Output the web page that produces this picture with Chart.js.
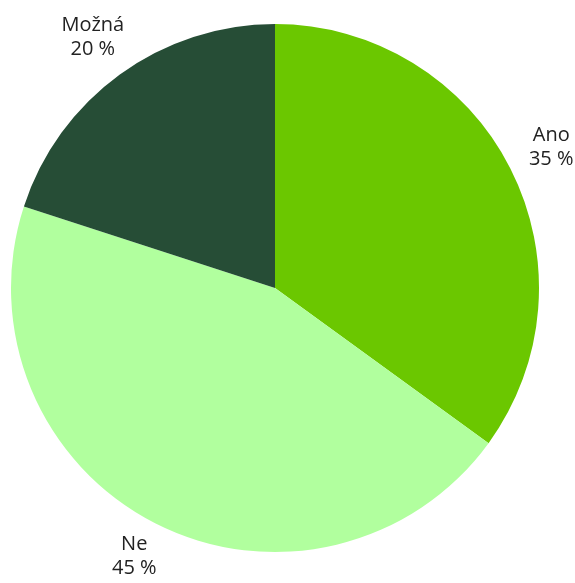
<!DOCTYPE html>
<html>
<head>
<meta charset="utf-8">
<script src="https://cdn.jsdelivr.net/npm/chart.js@4/dist/chart.umd.min.js"></script>
<style>
  html, body { margin: 0; padding: 0; background: #fff; }
  #wrap { width: 575px; height: 583px; }
</style>
</head>
<body>
<div id="wrap"><canvas id="pieChart"></canvas></div>
<script>
// data
const labels = ['Ano', 'Ne', 'Možná'];
const values = [35, 45, 20];
const colors = ['#6bc700', '#b1ff9e', '#264d36'];

// draws "name / xx %" outside each slice, kept inside the canvas
const outsideLabels = {
  id: 'outsideLabels',
  afterDatasetsDraw(chart) {
    let ctx = chart.ctx;
    let meta = chart.getDatasetMeta(0);
    ctx.save();
    ctx.font = '20px "Open Sans"';
    ctx.fillStyle = '#222';
    ctx.textAlign = 'center';
    ctx.textBaseline = 'middle';
    meta.data.forEach(function (arc, i) {
      let mid = (arc.startAngle + arc.endAngle) / 2;
      let r = arc.outerRadius + 46;
      let x = arc.x + Math.cos(mid) * r;
      let y = arc.y + Math.sin(mid) * r;
      y = Math.min(y, chart.height - 27);
      ctx.fillText(labels[i], x, y - 12);
      ctx.fillText(values[i] + ' %', x, y + 12);
    });
    ctx.restore();
  }
};

let ctx = document.getElementById('pieChart').getContext('2d');
let myChart = new Chart(ctx, {
  type: 'pie',
  data: {
    labels: labels,
    datasets: [{
      data: values,
      backgroundColor: colors,
      borderWidth: 0
    }]
  },
  options: {
    responsive: true,
    maintainAspectRatio: false,
    animation: false,
    layout: { padding: { top: 24, bottom: 31, left: 11, right: 36 } },
    plugins: {
      legend: { display: false },
      tooltip: { enabled: false }
    }
  },
  plugins: [outsideLabels]
});
</script>
</body>
</html>
